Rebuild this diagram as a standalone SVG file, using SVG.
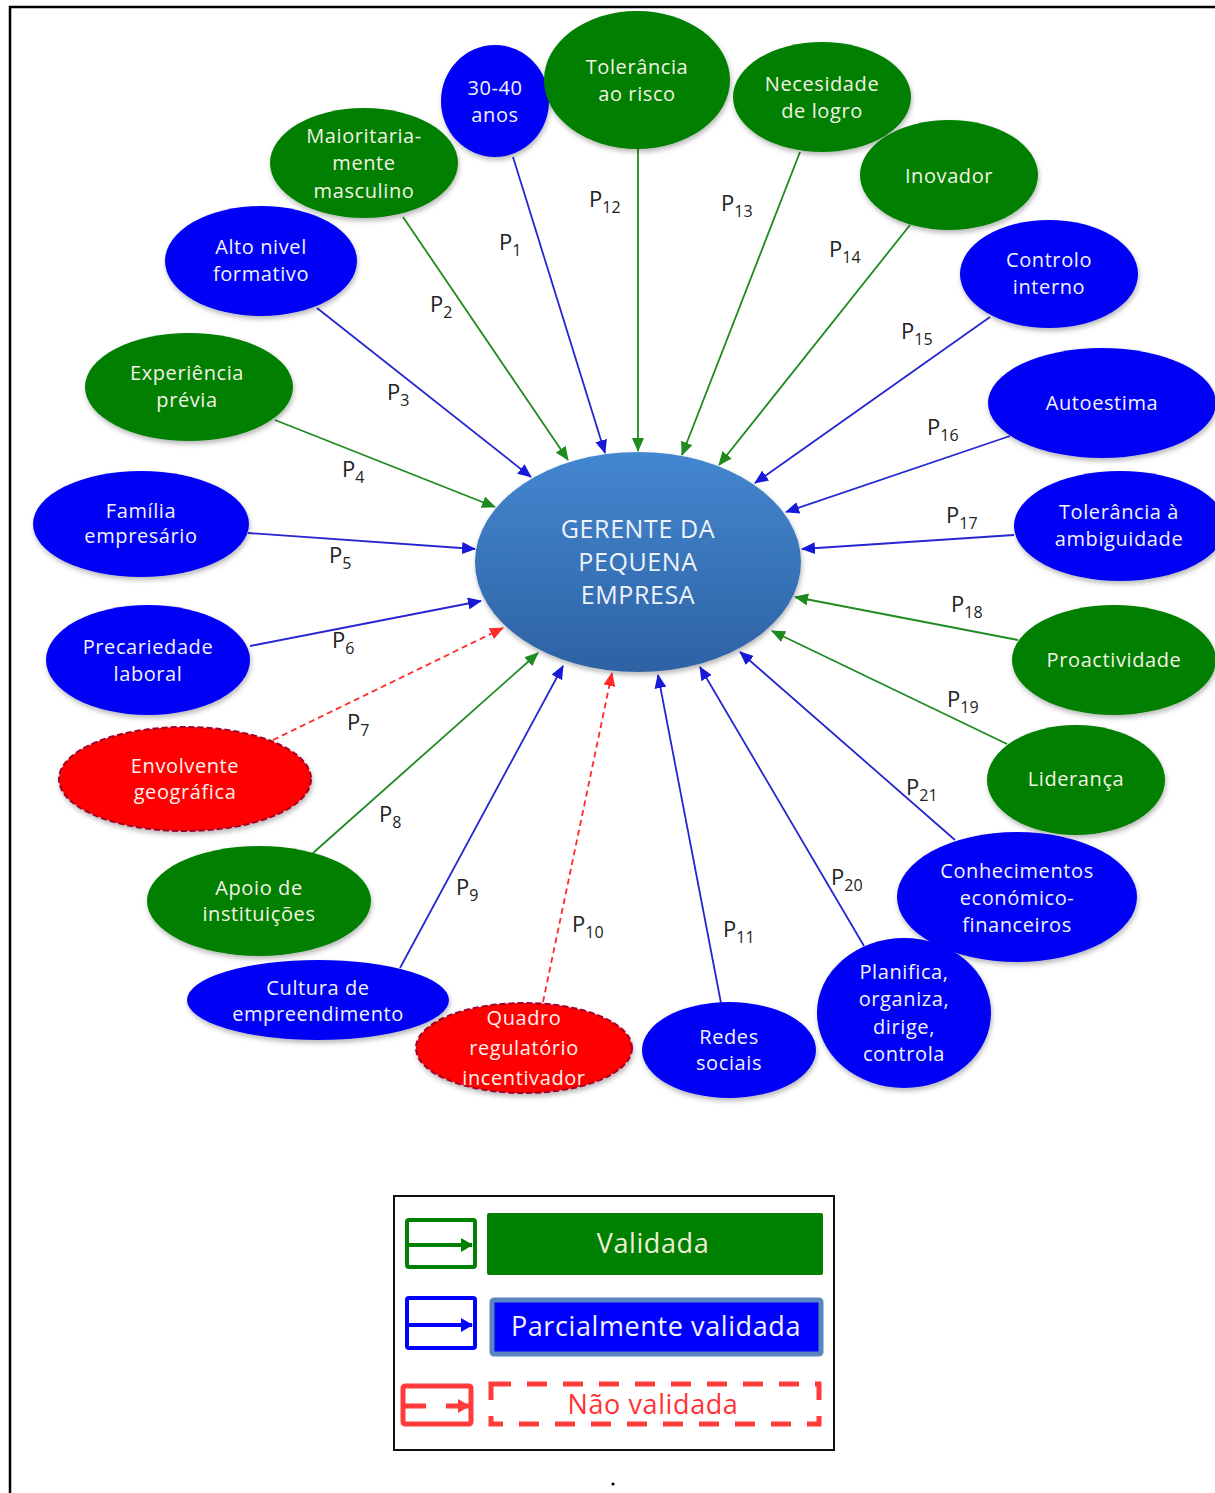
<svg xmlns="http://www.w3.org/2000/svg" width="1215" height="1493" viewBox="0 0 1215 1493">
  <defs>
    <style>
      .nt { font-family: "Open Sans", "Liberation Sans", sans-serif; font-size: 20px; letter-spacing: 0.6px; text-anchor: middle; }
      .g { fill: #007f00; }
      .b { fill: #0000f5; }
      .r { fill: #ff0000; stroke: #a0002a; stroke-width: 2; stroke-dasharray: 6 3; }
      .tg { fill: #f4f4e4; }
      .tb { fill: #f2f2ff; }
      .tr { fill: #fff0f0; }
      .lg { stroke: #1f8a1f; stroke-width: 1.8; fill: none; marker-end: url(#ahG); }
      .lb { stroke: #2626d0; stroke-width: 1.8; fill: none; marker-end: url(#ahB); }
      .lr { stroke: #ff2a2a; stroke-width: 1.8; fill: none; stroke-dasharray: 6 4; marker-end: url(#ahR); }
      .pl { font-family: "Open Sans", "Liberation Sans", sans-serif; font-size: 22px; fill: #222; }
      .ps { font-size: 16px; }
      .leg { font-family: "Open Sans", "Liberation Sans", sans-serif; font-size: 27px; letter-spacing: 0.6px; text-anchor: middle; }
      .ct { font-family: "Open Sans", "Liberation Sans", sans-serif; font-size: 25px; letter-spacing: 0.6px; fill: #eef3fa; text-anchor: middle; }
    </style>
    <marker id="ahG" markerUnits="userSpaceOnUse" markerWidth="14" markerHeight="12" refX="13" refY="6" orient="auto">
      <path d="M0,0 L14,6 L0,12 z" fill="#1f8a1f"/>
    </marker>
    <marker id="ahB" markerUnits="userSpaceOnUse" markerWidth="14" markerHeight="12" refX="13" refY="6" orient="auto">
      <path d="M0,0 L14,6 L0,12 z" fill="#1818d8"/>
    </marker>
    <marker id="ahR" markerUnits="userSpaceOnUse" markerWidth="14" markerHeight="12" refX="13" refY="6" orient="auto">
      <path d="M0,0 L14,6 L0,12 z" fill="#ff2a2a"/>
    </marker>
    <marker id="legG" markerUnits="userSpaceOnUse" markerWidth="12" markerHeight="14" refX="11" refY="7" orient="auto">
      <path d="M0,0 L12,7 L0,14 z" fill="#008000"/>
    </marker>
    <marker id="legB" markerUnits="userSpaceOnUse" markerWidth="12" markerHeight="14" refX="11" refY="7" orient="auto">
      <path d="M0,0 L12,7 L0,14 z" fill="#0000ff"/>
    </marker>
    <marker id="legR" markerUnits="userSpaceOnUse" markerWidth="12" markerHeight="14" refX="11" refY="7" orient="auto">
      <path d="M0,0 L12,7 L0,14 z" fill="#ff3b3b"/>
    </marker>
    <linearGradient id="centerFill" x1="0" y1="0" x2="0" y2="1">
      <stop offset="0" stop-color="#4487d0"/>
      <stop offset="1" stop-color="#2d62a4"/>
    </linearGradient>
    <filter id="shadow" x="-20%" y="-20%" width="140%" height="150%">
      <feDropShadow dx="1" dy="3" stdDeviation="2.5" flood-color="#000" flood-opacity="0.28"/>
    </filter>
  </defs>

  <rect width="1215" height="1493" fill="#ffffff"/>
  <!-- page frame -->
  <path d="M10,1493 L10,7 L1215,7" fill="none" stroke="#000" stroke-width="2.5"/>

  <!-- connectors -->
  <g id="connectors">
    <line class="lb" x1="513" y1="157" x2="605" y2="453"/>
    <line class="lg" x1="403" y1="217" x2="568" y2="460"/>
    <line class="lb" x1="317" y1="308" x2="531" y2="477"/>
    <line class="lg" x1="275" y1="420" x2="495" y2="507"/>
    <line class="lb" x1="248" y1="533" x2="475" y2="549"/>
    <line class="lb" x1="250" y1="646" x2="481" y2="601"/>
    <line class="lr" x1="273" y1="740" x2="503" y2="628"/>
    <line class="lg" x1="313" y1="853" x2="538" y2="653"/>
    <line class="lb" x1="400" y1="968" x2="563" y2="666"/>
    <line class="lr" x1="543" y1="1002" x2="612" y2="673"/>
    <line class="lb" x1="721" y1="1003" x2="658" y2="675"/>
    <line class="lg" x1="638" y1="149" x2="638" y2="451"/>
    <line class="lg" x1="800" y1="152" x2="682" y2="455"/>
    <line class="lg" x1="910" y1="225" x2="719" y2="465"/>
    <line class="lb" x1="990" y1="317" x2="755" y2="483"/>
    <line class="lb" x1="1010" y1="436" x2="786" y2="512"/>
    <line class="lb" x1="1014" y1="535" x2="802" y2="549"/>
    <line class="lg" x1="1018" y1="640" x2="795" y2="597"/>
    <line class="lg" x1="1007" y1="744" x2="772" y2="631"/>
    <line class="lb" x1="864" y1="946" x2="700" y2="667"/>
    <line class="lb" x1="955" y1="840" x2="740" y2="652"/>
  </g>

  <!-- connector labels -->
  <g id="labels">
    <text class="pl" x="499" y="250">P<tspan class="ps" dy="6">1</tspan></text>
    <text class="pl" x="430" y="312">P<tspan class="ps" dy="6">2</tspan></text>
    <text class="pl" x="387" y="400">P<tspan class="ps" dy="6">3</tspan></text>
    <text class="pl" x="342" y="477">P<tspan class="ps" dy="6">4</tspan></text>
    <text class="pl" x="329" y="563">P<tspan class="ps" dy="6">5</tspan></text>
    <text class="pl" x="332" y="648">P<tspan class="ps" dy="6">6</tspan></text>
    <text class="pl" x="347" y="730">P<tspan class="ps" dy="6">7</tspan></text>
    <text class="pl" x="379" y="822">P<tspan class="ps" dy="6">8</tspan></text>
    <text class="pl" x="456" y="895">P<tspan class="ps" dy="6">9</tspan></text>
    <text class="pl" x="572" y="932">P<tspan class="ps" dy="6">10</tspan></text>
    <text class="pl" x="723" y="937">P<tspan class="ps" dy="6">11</tspan></text>
    <text class="pl" x="589" y="207">P<tspan class="ps" dy="6">12</tspan></text>
    <text class="pl" x="721" y="211">P<tspan class="ps" dy="6">13</tspan></text>
    <text class="pl" x="829" y="257">P<tspan class="ps" dy="6">14</tspan></text>
    <text class="pl" x="901" y="339">P<tspan class="ps" dy="6">15</tspan></text>
    <text class="pl" x="927" y="435">P<tspan class="ps" dy="6">16</tspan></text>
    <text class="pl" x="946" y="523">P<tspan class="ps" dy="6">17</tspan></text>
    <text class="pl" x="951" y="612">P<tspan class="ps" dy="6">18</tspan></text>
    <text class="pl" x="947" y="707">P<tspan class="ps" dy="6">19</tspan></text>
    <text class="pl" x="831" y="885">P<tspan class="ps" dy="6">20</tspan></text>
    <text class="pl" x="906" y="795">P<tspan class="ps" dy="6">21</tspan></text>
  </g>

  <!-- central node -->
  <g id="gerente">
    <ellipse cx="638" cy="562" rx="163" ry="110" fill="url(#centerFill)" filter="url(#shadow)"/>
    <text class="ct" x="638" y="538">GERENTE DA</text>
    <text class="ct" x="638" y="571">PEQUENA</text>
    <text class="ct" x="638" y="604">EMPRESA</text>
  </g>

  <!-- outer factor nodes -->
  <g id="n-idade">
    <ellipse class="b" cx="495" cy="101" rx="54" ry="56" filter="url(#shadow)"/>
    <text class="nt tb" x="495" y="95">30-40</text>
    <text class="nt tb" x="495" y="122">anos</text>
  </g>
  <g id="n-risco">
    <ellipse class="g" cx="637" cy="80" rx="93" ry="69" filter="url(#shadow)"/>
    <text class="nt tg" x="637" y="74">Tolerância</text>
    <text class="nt tg" x="637" y="101">ao risco</text>
  </g>
  <g id="n-logro">
    <ellipse class="g" cx="822" cy="97" rx="89" ry="55" filter="url(#shadow)"/>
    <text class="nt tg" x="822" y="91">Necesidade</text>
    <text class="nt tg" x="822" y="118">de logro</text>
  </g>
  <g id="n-inovador">
    <ellipse class="g" cx="949" cy="175" rx="89" ry="55" filter="url(#shadow)"/>
    <text class="nt tg" x="949" y="183">Inovador</text>
  </g>
  <g id="n-controlo">
    <ellipse class="b" cx="1049" cy="274" rx="89" ry="54" filter="url(#shadow)"/>
    <text class="nt tb" x="1049" y="267">Controlo</text>
    <text class="nt tb" x="1049" y="294">interno</text>
  </g>
  <g id="n-autoestima">
    <ellipse class="b" cx="1102" cy="403" rx="114" ry="55" filter="url(#shadow)"/>
    <text class="nt tb" x="1102" y="410">Autoestima</text>
  </g>
  <g id="n-ambiguidade">
    <ellipse class="b" cx="1120" cy="526" rx="106" ry="55" filter="url(#shadow)"/>
    <text class="nt tb" x="1119" y="519">Tolerância à</text>
    <text class="nt tb" x="1119" y="546">ambiguidade</text>
  </g>
  <g id="n-proactividade">
    <ellipse class="g" cx="1114" cy="660" rx="102" ry="55" filter="url(#shadow)"/>
    <text class="nt tg" x="1114" y="667">Proactividade</text>
  </g>
  <g id="n-lideranca">
    <ellipse class="g" cx="1076" cy="780" rx="89" ry="55" filter="url(#shadow)"/>
    <text class="nt tg" x="1076" y="786">Liderança</text>
  </g>
  <g id="n-conhecimentos">
    <ellipse class="b" cx="1017" cy="897" rx="120" ry="65" filter="url(#shadow)"/>
    <text class="nt tb" x="1017" y="878">Conhecimentos</text>
    <text class="nt tb" x="1017" y="905">económico-</text>
    <text class="nt tb" x="1017" y="932">financeiros</text>
  </g>
  <g id="n-planifica">
    <ellipse class="b" cx="904" cy="1013" rx="87" ry="75" filter="url(#shadow)"/>
    <text class="nt tb" x="904" y="979">Planifica,</text>
    <text class="nt tb" x="904" y="1006">organiza,</text>
    <text class="nt tb" x="904" y="1034">dirige,</text>
    <text class="nt tb" x="904" y="1061">controla</text>
  </g>
  <g id="n-redes">
    <ellipse class="b" cx="729" cy="1050" rx="87" ry="48" filter="url(#shadow)"/>
    <text class="nt tb" x="729" y="1044">Redes</text>
    <text class="nt tb" x="729" y="1070">sociais</text>
  </g>
  <g id="n-quadro">
    <ellipse class="r" cx="524" cy="1048" rx="108" ry="45" filter="url(#shadow)"/>
    <text class="nt tr" x="524" y="1025" font-size="21">Quadro</text>
    <text class="nt tr" x="524" y="1055" font-size="21">regulatório</text>
    <text class="nt tr" x="524" y="1085" font-size="21">incentivador</text>
  </g>
  <g id="n-cultura">
    <ellipse class="b" cx="318" cy="1000" rx="131" ry="40" filter="url(#shadow)"/>
    <text class="nt tb" x="318" y="995">Cultura de</text>
    <text class="nt tb" x="318" y="1021">empreendimento</text>
  </g>
  <g id="n-apoio">
    <ellipse class="g" cx="259" cy="901" rx="112" ry="55" filter="url(#shadow)"/>
    <text class="nt tg" x="259" y="895">Apoio de</text>
    <text class="nt tg" x="259" y="921">instituições</text>
  </g>
  <g id="n-envolvente">
    <ellipse class="r" cx="185" cy="779" rx="126" ry="52" filter="url(#shadow)"/>
    <text class="nt tr" x="185" y="773">Envolvente</text>
    <text class="nt tr" x="185" y="799">geográfica</text>
  </g>
  <g id="n-precariedade">
    <ellipse class="b" cx="148" cy="660" rx="102" ry="55" filter="url(#shadow)"/>
    <text class="nt tb" x="148" y="654">Precariedade</text>
    <text class="nt tb" x="148" y="681">laboral</text>
  </g>
  <g id="n-familia">
    <ellipse class="b" cx="141" cy="524" rx="108" ry="53" filter="url(#shadow)"/>
    <text class="nt tb" x="141" y="518">Família</text>
    <text class="nt tb" x="141" y="543">empresário</text>
  </g>
  <g id="n-experiencia">
    <ellipse class="g" cx="189" cy="387" rx="104" ry="54" filter="url(#shadow)"/>
    <text class="nt tg" x="187" y="380">Experiência</text>
    <text class="nt tg" x="187" y="407">prévia</text>
  </g>
  <g id="n-formativo">
    <ellipse class="b" cx="261" cy="261" rx="96" ry="55" filter="url(#shadow)"/>
    <text class="nt tb" x="261" y="254">Alto nivel</text>
    <text class="nt tb" x="261" y="281">formativo</text>
  </g>
  <g id="n-masculino">
    <ellipse class="g" cx="364" cy="163" rx="94" ry="55" filter="url(#shadow)"/>
    <text class="nt tg" x="364" y="143">Maioritaria-</text>
    <text class="nt tg" x="364" y="170">mente</text>
    <text class="nt tg" x="364" y="198">masculino</text>
  </g>

  <!-- legend -->
  <g id="legend">
    <rect x="394" y="1196" width="440" height="254" fill="#fff" stroke="#111" stroke-width="2"/>
    <rect x="407" y="1220" width="68" height="47" rx="2" fill="none" stroke="#008000" stroke-width="4"/>
    <line x1="407" y1="1245" x2="472" y2="1245" stroke="#008000" stroke-width="4" marker-end="url(#legG)"/>
    <rect x="487" y="1213" width="336" height="62" rx="2" fill="#008000"/>
    <text class="leg" x="653" y="1253" fill="#eef0d8">Validada</text>

    <rect x="407" y="1298" width="68" height="50" rx="2" fill="none" stroke="#0000ff" stroke-width="4"/>
    <line x1="407" y1="1325" x2="472" y2="1325" stroke="#0000ff" stroke-width="4" marker-end="url(#legB)"/>
    <rect x="492" y="1300" width="329" height="54" rx="2" fill="#0000ff" stroke="#5a86c0" stroke-width="5"/>
    <text class="leg" x="656" y="1336" fill="#f2f2ff">Parcialmente validada</text>

    <rect x="403" y="1386" width="68" height="38" rx="2" fill="none" stroke="#ff3b3b" stroke-width="5"/>
    <line x1="403" y1="1406" x2="426" y2="1406" stroke="#ff3b3b" stroke-width="5"/>
    <line x1="446" y1="1406" x2="469" y2="1406" stroke="#ff3b3b" stroke-width="5" marker-end="url(#legR)"/>
    <rect x="491" y="1384" width="328" height="40" fill="none" stroke="#ff3b3b" stroke-width="5" stroke-dasharray="20 16"/>
    <text class="leg" x="653" y="1414" fill="#ff3333">Não validada</text>
  </g>

  <circle cx="613" cy="1484" r="1.6" fill="#000"/>
</svg>
